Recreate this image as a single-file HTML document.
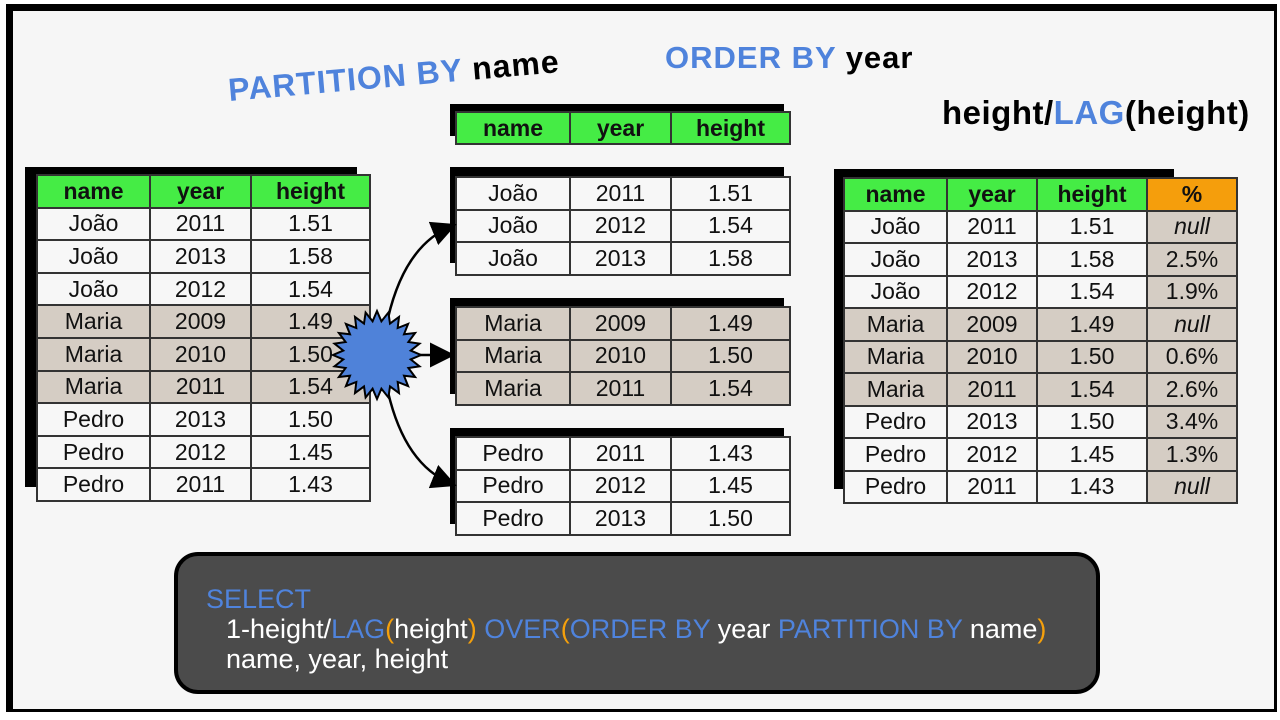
<!DOCTYPE html>
<html><head><meta charset="utf-8">
<style>
*{box-sizing:border-box;margin:0;padding:0}
body{width:1280px;height:720px;background:#fff;position:relative;overflow:hidden;font-family:"Liberation Sans",sans-serif}
#frame{position:absolute;left:6px;top:4px;width:1271px;height:708px;background:#f6f6f6;border:3px solid #000;border-left-width:7px;border-top-width:7px}
.abs{position:absolute}
.shadow{position:absolute;background:#000}
table{position:absolute;border-collapse:collapse;table-layout:fixed}
td{border:2px solid #333;text-align:center;font-size:23px;color:#111;padding:0;line-height:1}
td.h{background:#45ec45;font-weight:bold;font-size:23px}
td.o{background:#f59e0c;font-weight:bold}
.w{background:#f7f7f7}
.g{background:#d5cdc4}
.n{font-style:italic}
.title{position:absolute;font-weight:bold;font-size:29px;white-space:nowrap}
.blue{color:#4f83dc}
#code{position:absolute;left:174px;top:552px;width:926px;height:142px;background:#4b4b4b;border:4px solid #000;border-radius:24px;color:#fff;font-size:27px;line-height:30px;padding:28px 0 0 28px}
.k{color:#4f83dc}.p{color:#f5a00c}
</style></head><body>
<div id="frame"></div>

<div class="title" style="left:230px;top:72px;font-size:32px;transform:rotate(-5deg);transform-origin:left bottom;letter-spacing:1px"><span class="blue">PARTITION BY</span> name</div>
<div class="title" style="left:665px;top:40px;font-size:31px;letter-spacing:1px"><span class="blue">ORDER BY</span> year</div>
<div class="title" style="left:942px;top:94px;font-size:33px;letter-spacing:0.5px">height/<span class="blue">LAG</span>(height)</div>

<div id="tables"></div>

<svg class="abs" style="left:0;top:0" width="1280" height="720">
<defs><marker id="ah" markerWidth="10" markerHeight="10" refX="8" refY="5" orient="auto"><path d="M0,0 L10,5 L0,10 z" fill="#000"/></marker></defs>
<path d="M388,318 Q405,245 452,226" stroke="#000" stroke-width="2.5" fill="none" marker-end="url(#ah)"/>
<path d="M415,355 L450,355" stroke="#000" stroke-width="2.5" fill="none" marker-end="url(#ah)"/>
<path d="M388,392 Q405,465 452,484" stroke="#000" stroke-width="2.5" fill="none" marker-end="url(#ah)"/>
<polygon id="star" fill="#4f82d9" stroke="#000" stroke-width="2"/>
</svg>

<div id="code">
<div class="k">SELECT</div>
<div style="padding-left:20px">1-height/<span class="k">LAG</span><span class="p">(</span>height<span class="p">)</span> <span class="k">OVER</span><span class="p">(</span><span class="k">ORDER BY</span> year <span class="k">PARTITION BY</span> name<span class="p">)</span></div>
<div style="padding-left:20px">name, year, height</div>
</div>

<script>
const names=["João","João","João","Maria","Maria","Maria","Pedro","Pedro","Pedro"];
const years=[2011,2013,2012,2009,2010,2011,2013,2012,2011];
const heights=["1.51","1.58","1.54","1.49","1.50","1.54","1.50","1.45","1.43"];
const pcts=["null","2.5%","1.9%","null","0.6%","2.6%","3.4%","1.3%","null"];
const g1Years=[2011,2012,2013], g1Heights=["1.51","1.54","1.58"];
const g2Years=[2009,2010,2011], g2Heights=["1.49","1.50","1.54"];
const g3Years=[2011,2012,2013], g3Heights=["1.43","1.45","1.50"];
const root=document.getElementById('tables');
function shadow(x,y,w,h){const d=document.createElement('div');d.className='shadow';


d.style.cssText=`left:${x}px;top:${y}px;width:${w}px;height:${h}px`;root.appendChild(d);}
function table(name,x,y,widths,rowH,header,rows){
 const t=document.createElement('table');
 
 
 t.style.left=x+'px';t.style.top=y+'px';
 t.style.width=widths.reduce((a,b)=>a+b,0)+'px';
 const cg=document.createElement('colgroup');widths.forEach(w=>{const c=document.createElement('col');c.style.width=w+'px';cg.appendChild(c)});t.appendChild(cg);
 if(header){const tr=document.createElement('tr');tr.style.height=rowH+'px';
  header.forEach(h=>{const td=document.createElement('td');td.className=h==='%'?'o':'h';td.textContent=h;
   
   
   tr.appendChild(td)});t.appendChild(tr);}
 rows.forEach(r=>{const tr=document.createElement('tr');tr.style.height=rowH+'px';
  r.cells.forEach((c,i)=>{const td=document.createElement('td');
   td.className=(r.cls[i]||r.bg)+(c==='null'?' n':'');td.textContent=c;
   
   
   tr.appendChild(td)});t.appendChild(tr);});
 root.appendChild(t);
}
const bg=n=>n==='Maria'?'g':'w';
shadow(25,167,332,320);
table('source-table',36,174,[113,101,119],32.6,['name','year','height'],
 names.map((n,i)=>({cells:[n,years[i],heights[i]],bg:bg(n),cls:[]})));
shadow(450,104,334,32);
table('partition-header',455,111,[114,101,119],32,['name','year','height'],[]);
[[g1Years,g1Heights,'João',167,176],[g2Years,g2Heights,'Maria',298,306],[g3Years,g3Heights,'Pedro',428,436]].forEach((g,k)=>{
 shadow(450,g[3],334,96);
 table('partition-'+g[2].toLowerCase(),455,g[4],[114,101,119],32.6,null,
  g[0].map((y,i)=>({cells:[g[2],y,g[1][i]],bg:bg(g[2]),cls:[]})));
});
shadow(834,169,340,320);
table('result-table',843,177,[103,90,110,90],32.5,['name','year','height','%'],
 names.map((n,i)=>({cells:[n,years[i],heights[i],pcts[i]],bg:bg(n),cls:[null,null,null,'g']})));
const cx=377,cy=355,R=44,r=34,N=24;let pts=[];
for(let i=0;i<N*2;i++){const a=Math.PI*i/N;const rr=i%2?r:R;pts.push((cx+rr*Math.cos(a)).toFixed(1)+','+(cy+rr*Math.sin(a)).toFixed(1));}
document.getElementById('star').setAttribute('points',pts.join(' '));
</script>
</body></html>
